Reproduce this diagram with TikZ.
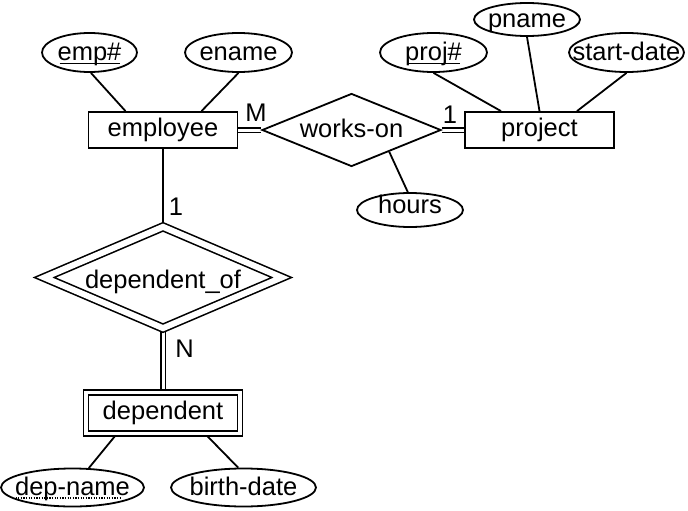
\documentclass[tikz,border=0pt]{standalone}
\usepackage{fontspec}
\setmainfont{Liberation Sans}
\usetikzlibrary{shapes.geometric,backgrounds}

\tikzset{
  every node/.style={font=\fontsize{25.5}{30}\selectfont},
  entity/.style={draw, rectangle, line width=1.8pt, inner sep=0pt, minimum width=149pt, minimum height=36pt, text height=13pt, text depth=0pt},
  weakentity/.style={entity, double, double distance=3.5pt, line width=1.5pt, minimum width=154pt, minimum height=41pt},
  relation/.style={draw, diamond, line width=1.8pt, inner sep=0pt, text height=14pt, text depth=0pt},
  identrel/.style={relation, double, double distance=6pt, line width=1.6pt},
  attr/.style={draw, ellipse, line width=1.8pt, inner sep=0pt, minimum height=39pt, text height=15pt, text depth=0pt},
  conn/.style={line width=1.8pt},
  total/.style={line width=1.4pt, double, double distance=3pt},
  keyline/.style={line width=1.4pt},
  partkeyline/.style={line width=1.3pt, dash pattern=on 1.3pt off 1.3pt},
  card/.style={inner sep=0pt},
}

\begin{document}
\begin{tikzpicture}[x=1pt,y=1pt,yscale=-1,xscale=1]
\useasboundingbox (0,0) rectangle (688,511);

%Shape: Rectangle
\draw (163,130) node (employee) [entity] {employee};
%Shape: Rectangle
\draw (539.5,130) node (project) [entity] {project};
%Shape: Rectangle (double)
\draw (163,413) node (dependent) [weakentity] {dependent};

%Shape: Diamond
\draw (351.5,130) node (workson) [relation, minimum width=179pt, minimum height=73pt] {\makebox[0pt]{works-on}};
%Shape: Diamond (double)
\draw (163,277.5) node (dependentof) [identrel, minimum width=238pt, minimum height=102pt, text height=21pt] {\makebox[0pt]{dependent\_of}};

%Shape: Ellipse
\draw (89.5,52.5) node (empno) [attr, minimum width=95pt] {\makebox[0pt]{emp\#}};
%Shape: Ellipse
\draw (238.5,52.5) node (ename) [attr, minimum width=107pt] {\makebox[0pt]{ename}};
%Shape: Ellipse
\draw (433.5,52.5) node (projno) [attr, minimum width=107pt] {\makebox[0pt]{proj\#}};
%Shape: Ellipse
\draw (527,19.5) node (pname) [attr, minimum width=106pt, minimum height=33pt, text height=17pt] {\makebox[0pt]{pname}};
%Shape: Ellipse
\draw (626.5,52.5) node (startdate) [attr, minimum width=115pt] {\makebox[0pt]{start-date}};
%Shape: Ellipse
\draw (410,210) node (hours) [attr, minimum width=106pt, minimum height=34pt, text height=6pt] {\makebox[0pt]{hours}};
%Shape: Ellipse
\draw (72.5,487.5) node (depname) [attr, minimum width=143pt, minimum height=38pt] {\makebox[0pt]{dep-name}};
%Shape: Ellipse
\draw (243.5,487.5) node (birthdate) [attr, minimum width=145pt, minimum height=38pt] {\makebox[0pt]{birth-date}};

%Key underlines
\draw [keyline] ([xshift=-30pt,yshift=10.8pt]empno.center) -- ([xshift=30pt,yshift=10.8pt]empno.center);
\draw [keyline] ([xshift=-26.5pt,yshift=10.8pt]projno.center) -- ([xshift=26.5pt,yshift=10.8pt]projno.center);
\draw [partkeyline] ([xshift=-57pt,yshift=10.5pt]depname.center) -- ([xshift=48pt,yshift=10.5pt]depname.center);

% Text Node
\draw (256,112.5) node (cardM) [card] {M};
% Text Node
\draw (450,114.5) node (cardproj) [card] {1};
% Text Node
\draw (176,206.5) node (cardemp) [card] {1};
% Text Node
\draw (184.5,348.5) node (cardN) [card] {N};

\begin{scope}[on background layer]
%Straight Lines
\draw [conn] (empno.-86) -- ([xshift=-37.5pt]employee.north);
\draw [conn] (ename.-90) -- ([xshift=38.5pt]employee.north);
\draw [conn] (projno.-90) -- ([xshift=-38.5pt]project.north);
\draw [conn] (pname.-90) -- (project.north);
\draw [conn] (startdate.-90) -- ([xshift=37.5pt]project.north);
\draw [conn] (workson.-30) -- (hours.97);
\draw [conn] (employee) -- (dependentof);
\draw [conn] (depname.50) -- ([xshift=-46.5pt]dependent.south);
\draw [conn] (birthdate.105) -- ([xshift=42.5pt]dependent.south);
%Double Lines
\draw [total] (employee) -- (workson);
\draw [total] (workson) -- (project);
\draw [total] (dependentof) -- (dependent);
\end{scope}
\end{tikzpicture}
\end{document}
